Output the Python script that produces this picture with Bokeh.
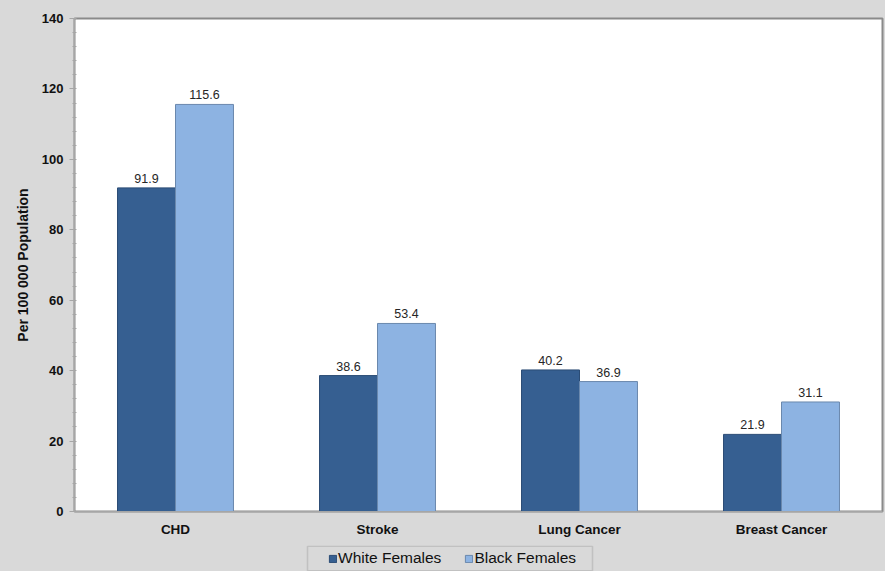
from bokeh.plotting import figure
from bokeh.layouts import column
from bokeh.models import (ColumnDataSource, FactorRange, Range1d, Legend, LegendItem,
                          SingleIntervalTicker, BoxAnnotation)
from bokeh.transform import dodge
from bokeh.core.properties import value
from bokeh.embed import file_html
from bokeh.resources import INLINE

categories = ["CHD", "Stroke", "Lung Cancer", "Breast Cancer"]
white_females = [91.9, 38.6, 40.2, 21.9]
black_females = [115.6, 53.4, 36.9, 31.1]
series_names = ["White Females", "Black Females"]
series_colors = ["#365f91", "#8db3e2"]
series_edges = ["#2b4c75", "#6a88ad"]

src = ColumnDataSource(dict(
    cat=categories,
    w=white_females,
    b=black_females,
    wl=[f"{v:.1f}" for v in white_females],
    bl=[f"{v:.1f}" for v in black_females],
))

FONT = "Liberation Sans"
BG = "#d9d9d9"

p = figure(width=885, height=545, x_range=FactorRange(*categories),
           y_range=Range1d(0, 140), output_backend="svg", toolbar_location=None,
           min_border_left=74, min_border_top=18, min_border_right=3, min_border_bottom=34)
p.border_fill_color = BG
p.background_fill_color = "white"
p.outline_line_color = "#8a8a8a"
p.outline_line_width = 2
p.grid.visible = False
p.x_range.range_padding = 0

bw = 0.287
off = bw / 2
p.vbar(x=dodge("cat", -off, range=p.x_range), top="w", width=bw, source=src,
       fill_color=series_colors[0], line_color=series_edges[0], line_width=1)
p.vbar(x=dodge("cat", off, range=p.x_range), top="b", width=bw, source=src,
       fill_color=series_colors[1], line_color=series_edges[1], line_width=1)

p.text(x=dodge("cat", -off, range=p.x_range), y="w", text="wl", source=src,
       text_align="center", text_baseline="bottom", y_offset=-5,
       text_font=value(FONT), text_font_size="12.5px", text_color="#262626")
p.text(x=dodge("cat", off, range=p.x_range), y="b", text="bl", source=src,
       text_align="center", text_baseline="bottom", y_offset=-5,
       text_font=value(FONT), text_font_size="12.5px", text_color="#262626")

ya = p.yaxis[0]
ya.ticker = SingleIntervalTicker(interval=20, num_minor_ticks=5)
ya.axis_label = "Per 100 000 Population"
ya.axis_label_text_font = FONT
ya.axis_label_text_font_style = "bold"
ya.axis_label_text_font_size = "14px"
ya.axis_label_text_color = "#111111"
ya.axis_label_standoff = 8
ya.major_label_text_font = FONT
ya.major_label_text_font_style = "bold"
ya.major_label_text_font_size = "13px"
ya.major_label_text_color = "#111111"
ya.major_label_standoff = 6
ya.axis_line_color = "#a6a6a6"
ya.major_tick_line_color = "#a6a6a6"
ya.minor_tick_line_color = "#a6a6a6"
ya.major_tick_out = 5
ya.major_tick_in = 0
ya.minor_tick_out = 2
ya.minor_tick_in = 2

xa = p.xaxis[0]
xa.major_label_text_font = FONT
xa.major_label_text_font_style = "bold"
xa.major_label_text_font_size = "13.5px"
xa.major_label_text_color = "#111111"
xa.axis_line_color = "#a6a6a6"
xa.major_tick_line_color = None
xa.minor_tick_line_color = None
xa.major_tick_out = 0
xa.major_tick_in = 0
xa.minor_tick_out = 0
xa.major_label_standoff = 10

# legend strip below the chart: hidden key renderers, shown only in the legend
lg = figure(width=885, height=26, x_range=FactorRange(*categories), y_range=Range1d(0, 140),
            output_backend="svg", toolbar_location=None,
            x_axis_type=None, y_axis_type=None,
            min_border_left=74, min_border_right=3, min_border_top=0, min_border_bottom=0)
lg.border_fill_color = BG
lg.background_fill_color = BG
lg.outline_line_color = None
lg.grid.visible = False
k1 = lg.vbar(x="cat", top="w", width=bw, source=src,
             fill_color=series_colors[0], line_color=series_edges[0], visible=False)
k2 = lg.vbar(x="cat", top="b", width=bw, source=src,
             fill_color=series_colors[1], line_color=series_edges[1], visible=False)

box = BoxAnnotation(left=307, right=592, top=0.75, bottom=25.25,
                    left_units="canvas", right_units="canvas",
                    top_units="canvas", bottom_units="canvas",
                    fill_alpha=0, line_color="#8a8a8a", line_width=1.5)
lg.add_layout(box)

legend = Legend(items=[LegendItem(label=series_names[0], renderers=[k1]),
                       LegendItem(label=series_names[1], renderers=[k2])],
                location=(254, 4), orientation="horizontal")
legend.border_line_color = None
legend.background_fill_alpha = 0
legend.inactive_fill_alpha = 0
legend.label_text_font = FONT
legend.label_text_font_size = "15.5px"
legend.label_text_color = "#111111"
legend.glyph_width = 9
legend.glyph_height = 9
legend.label_standoff = 1
legend.spacing = 23
legend.padding = 3
legend.margin = 0
legend.label_height = 15
lg.add_layout(legend, "center")

layout = column(p, lg, spacing=0, styles={"background-color": BG})
open("out.html", "w").write(file_html(layout, INLINE))
